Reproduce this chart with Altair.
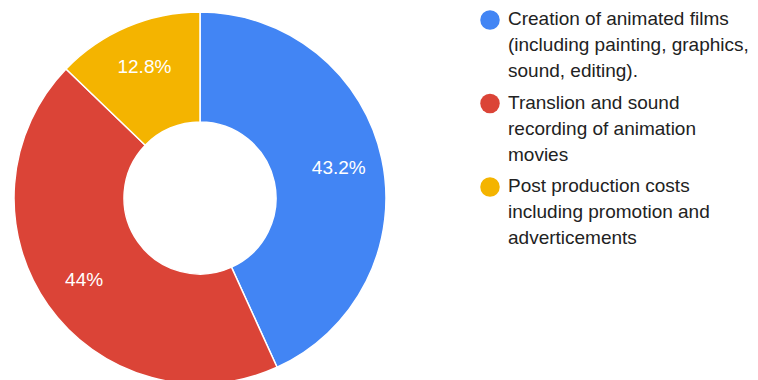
import altair as alt
import pandas as pd

categories = [
    "Creation of animated films (including painting, graphics, sound, editing).",
    "Translion and sound recording of animation movies",
    "Post production costs including promotion and adverticements",
]
shares = [43.2, 44.0, 12.8]
pct_labels = ["43.2%", "44%", "12.8%"]
legend_lines = [
    ["Creation of animated films", "(including painting, graphics,", "sound, editing)."],
    ["Translion and sound", "recording of animation", "movies"],
    ["Post production costs", "including promotion and", "adverticements"],
]
colors = ["#4285F4", "#DB4437", "#F4B400"]

df = pd.DataFrame({
    "category": categories,
    "share": shares,
    "label": pct_labels,
    "idx": [0, 1, 2],
})
df["legend"] = legend_lines

color = alt.Color("category:N", scale=alt.Scale(domain=categories, range=colors), legend=None)
order = alt.Order("idx:Q", sort="ascending")

CX, CY = 200, 198

arcs = alt.Chart(df).mark_arc(
    outerRadius=186, innerRadius=76, stroke="white", strokeWidth=1.5, x=CX, y=CY
).encode(
    theta=alt.Theta("share:Q", stack=True),
    color=color,
    order=order,
)

labels = alt.Chart(df).mark_text(
    radius=142, x=CX, y=CY, color="white", font="Liberation Sans", fontSize=19
).encode(
    theta=alt.Theta("share:Q", stack=True),
    text="label:N",
    order=order,
)

ypos = alt.Y("category:N", scale=alt.Scale(domain=categories, range=[20, 187], type="point", padding=0), axis=None)

leg_pts = alt.Chart(df).mark_point(
    filled=True, shape="circle", size=380, opacity=1
).encode(
    x=alt.value(490),
    y=ypos,
    color=color,
)

leg_txt = alt.Chart(df).mark_text(
    align="left", baseline="top", dy=-10, lineHeight=26,
    font="Liberation Sans", fontSize=19, color="#222222"
).encode(
    x=alt.value(508),
    y=ypos,
    text="legend",
)

chart = alt.layer(arcs, labels, leg_pts, leg_txt).properties(
    width=758, height=380, autosize="none", padding=0
).configure_view(stroke=None)

chart.save("out.html", embed_options={"renderer": "svg", "actions": False})
